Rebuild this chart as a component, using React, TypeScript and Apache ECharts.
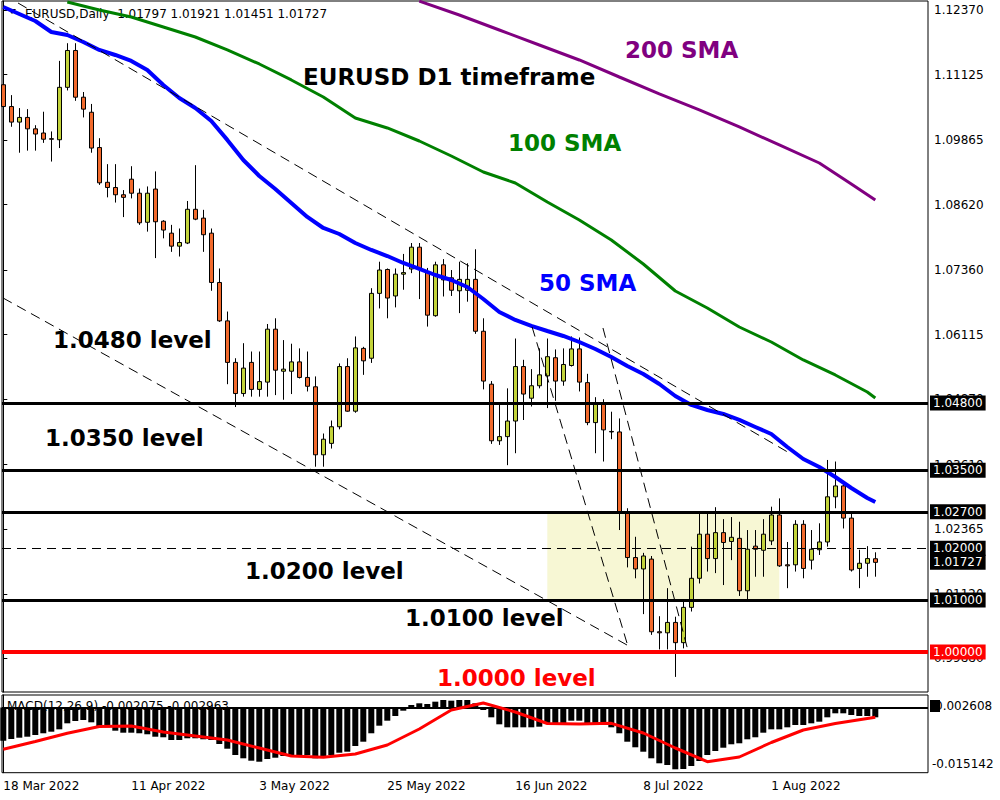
import React, { useEffect, useRef } from "react";
import * as echarts from "echarts";

// ---------- DATA ----------
const dateTicks = [0, 16, 32, 48, 64, 80, 96];
const dateLabels = ["18 Mar 2022", "11 Apr 2022", "3 May 2022", "25 May 2022", "16 Jun 2022", "8 Jul 2022", "1 Aug 2022"];
const priceTicks = [1.1237, 1.11125, 1.09865, 1.0862, 1.0736, 1.06115, 1.0487, 1.0361, 1.02365, 1.0112, 0.9988];

const opens = [1.1093,1.1051,1.1021,1.1030,1.1008,1.1000,1.0989,1.0987,1.1088,1.1159,
1.1069,1.1040,1.0972,1.0905,1.0895,1.0881,1.0911,1.0884,1.0828,1.0892,
1.0830,1.0807,1.0782,1.0788,1.0853,1.0836,1.0807,1.0712,1.0638,1.0558,
1.0498,1.0558,1.0506,1.0520,1.0622,1.0541,1.0541,1.0559,1.0529,1.0511,
1.0380,1.0402,1.0434,1.0550,1.0464,1.0585,1.0566,1.0691,1.0737,1.0686,
1.0728,1.0738,1.0780,1.0733,1.0648,1.0746,1.0721,1.0696,1.0697,1.0718,
1.0618,1.0516,1.0407,1.0415,1.0445,1.0550,1.0489,1.0513,1.0532,1.0567,
1.0522,1.0552,1.0584,1.0519,1.0442,1.0479,1.0425,1.0424,1.0268,1.0182,
1.0160,1.0179,1.0039,1.0037,1.0057,1.0018,1.0086,1.0142,1.0227,1.0180,
1.0230,1.0213,1.0219,1.0118,1.0204,1.0196,1.0214,1.0264,1.0168,1.0168,
1.0246,1.0177,1.0197,1.0212,1.0299,1.0320,1.0258,1.0161,1.0171,1.01797];

const highs = [1.1121,1.1073,1.1048,1.1046,1.1015,1.1041,1.1003,1.1139,1.1173,1.1173,
1.1079,1.1056,1.0990,1.0940,1.0940,1.0890,1.0936,1.0893,1.0897,1.0926,
1.0832,1.0823,1.0816,1.0869,1.0938,1.0852,1.0816,1.0739,1.0656,1.0566,
1.0595,1.0579,1.0579,1.0632,1.0643,1.0601,1.0594,1.0585,1.0579,1.0531,
1.0421,1.0446,1.0556,1.0566,1.0608,1.0588,1.0701,1.0752,1.0739,1.0739,
1.0767,1.0788,1.0788,1.0740,1.0752,1.0757,1.0736,1.0752,1.0749,1.0776,
1.0643,1.0522,1.0479,1.0508,1.0604,1.0563,1.0545,1.0585,1.0604,1.0583,
1.0585,1.0608,1.0606,1.0536,1.0491,1.0487,1.0463,1.0450,1.0277,1.0222,
1.0191,1.0185,1.0069,1.0123,1.0068,1.0097,1.0203,1.0267,1.0267,1.0279,
1.0256,1.0260,1.0251,1.0235,1.0235,1.0256,1.0280,1.0296,1.0212,1.0254,
1.0254,1.0235,1.0248,1.0370,1.0367,1.0328,1.0267,1.0197,1.0204,1.01921];

const lows = [1.1006,1.1012,1.0962,1.0966,1.0966,1.0981,1.0945,1.0971,1.1082,1.1062,
1.1030,1.0962,1.0900,1.0876,1.0866,1.0838,1.0874,1.0823,1.0810,1.0759,
1.0797,1.0771,1.0762,1.0786,1.0832,1.0771,1.0696,1.0636,1.0516,1.0472,
1.0492,1.0492,1.0492,1.0492,1.0495,1.0486,1.0497,1.0527,1.0502,1.0357,
1.0357,1.0392,1.0429,1.0463,1.0461,1.0534,1.0557,1.0662,1.0643,1.0664,
1.0698,1.0730,1.0680,1.0627,1.0646,1.0685,1.0686,1.0653,1.0675,1.0613,
1.0506,1.0401,1.0399,1.0360,1.0383,1.0447,1.0473,1.0508,1.0470,1.0484,
1.0513,1.0550,1.0502,1.0437,1.0383,1.0367,1.0410,1.0235,1.0163,1.0142,
1.0073,1.0033,1.0005,1.0005,0.9952,1.0007,1.0078,1.0132,1.0155,1.0152,
1.0129,1.0177,1.0108,1.0098,1.0145,1.0145,1.0206,1.0164,1.0123,1.0155,
1.0142,1.0159,1.0187,1.0203,1.0277,1.0238,1.0155,1.0123,1.0145,1.01451];

const closes = [1.1051,1.1021,1.1030,1.1008,1.0998,1.0988,1.0988,1.1088,1.1159,1.1069,
1.1046,1.0971,1.0904,1.0895,1.0881,1.0876,1.0884,1.0827,1.0884,1.0829,
1.0813,1.0782,1.0789,1.0853,1.0834,1.0804,1.0712,1.0638,1.0558,1.0498,
1.0547,1.0506,1.0521,1.0622,1.0543,1.0545,1.0559,1.0529,1.0512,1.0380,
1.0410,1.0434,1.0550,1.0464,1.0586,1.0561,1.0691,1.0736,1.0682,1.0728,
1.0731,1.0780,1.0739,1.0649,1.0746,1.0717,1.0697,1.0718,1.0718,1.0618,
1.0522,1.0407,1.0415,1.0445,1.0550,1.0497,1.0513,1.0534,1.0569,1.0522,
1.0554,1.0584,1.0520,1.0442,1.0480,1.0428,1.0424,1.0268,1.0182,1.0160,
1.0185,1.0039,1.0037,1.0057,1.0018,1.0086,1.0142,1.0227,1.0180,1.0230,
1.0211,1.0221,1.0118,1.0198,1.0198,1.0227,1.0264,1.0166,1.0166,1.0246,
1.0161,1.0198,1.0212,1.0299,1.0320,1.0258,1.0158,1.0171,1.0180,1.01727];

// Moving averages: [bar index, value]
const sma50: [number, number][] = [
  [0,1.12428],[2,1.12293],[4,1.12158],[6,1.11946],[8,1.11889],[10,1.11754],[12,1.11600],[14,1.11503],
  [16,1.11388],[18,1.11214],[20,1.10925],[22,1.10675],[24,1.10482],[26,1.10232],[28,1.09867],[30,1.09480],
  [32,1.09172],[34,1.08921],[36,1.08652],[38,1.08382],[40,1.08170],[42,1.08054],[44,1.07881],[46,1.07746],
  [48,1.07630],[50,1.07496],[52,1.07380],[54,1.07264],[56,1.07168],[58,1.07033],[60,1.06802],[62,1.06551],
  [64,1.06397],[66,1.06282],[68,1.06185],[70,1.06089],[72,1.05973],[74,1.05838],[76,1.05684],[78,1.05511],
  [80,1.05357],[82,1.05164],[84,1.04933],[86,1.04760],[88,1.04663],[90,1.04586],[92,1.04471],[94,1.04336],
  [96,1.04201],[98,1.03950],[100,1.03719],[102,1.03565],[104,1.03372],[106,1.03160],[108,1.02968],[109,1.02890]];
const sma100: [number, number][] = [
  [8,1.12524],[12,1.12370],[16,1.12235],[20,1.12043],[24,1.11850],[28,1.11600],[32,1.11330],[36,1.11022],
  [40,1.10694],[44,1.10289],[48,1.10097],[52,1.09846],[56,1.09557],[60,1.09249],[64,1.09037],[68,1.08671],
  [72,1.08324],[76,1.07939],[80,1.07476],[84,1.06956],[88,1.06629],[92,1.06262],[96,1.05973],[100,1.05627],
  [104,1.05338],[108,1.05010],[109,1.04895]];
const sma200: [number, number][] = [
  [52,1.12540],[57,1.12274],[62,1.11985],[67,1.11696],[72,1.11407],[77,1.11079],[82,1.10752],[87,1.10444],
  [92,1.10116],[97,1.09769],[102,1.09422],[106,1.09018],[109,1.08709]];

// MACD histogram (one per bar) and signal line samples
const macdHist = [-0.00794,-0.00753,-0.00722,-0.00698,-0.00657,-0.00616,-0.00578,-0.00521,-0.00377,-0.00321,
-0.00297,-0.00353,-0.00473,-0.00473,-0.00554,-0.00602,-0.00602,-0.00616,-0.00640,-0.00698,
-0.00712,-0.00777,-0.00777,-0.00736,-0.00736,-0.00760,-0.00777,-0.00873,-0.00986,-0.01137,
-0.01216,-0.01274,-0.01298,-0.01233,-0.01202,-0.01161,-0.01137,-0.01137,-0.01137,-0.01216,
-0.01178,-0.01137,-0.01082,-0.01058,-0.00921,-0.00818,-0.00616,-0.00434,-0.00314,-0.00201,
-0.00074,0.00062,0.00103,0.00086,0.00142,0.00182,0.00166,0.00182,0.00182,0.00103,
-0.00058,-0.00233,-0.00401,-0.00473,-0.00473,-0.00473,-0.00473,-0.00458,-0.00377,-0.00377,
-0.00377,-0.00314,-0.00314,-0.00401,-0.00401,-0.00417,-0.00473,-0.00616,-0.00818,-0.00952,
-0.01058,-0.01216,-0.01336,-0.01377,-0.01480,-0.01473,-0.01401,-0.01281,-0.01137,-0.01041,
-0.00962,-0.00880,-0.00856,-0.00760,-0.00712,-0.00602,-0.00521,-0.00521,-0.00473,-0.00417,
-0.00417,-0.00377,-0.00338,-0.00233,-0.00137,-0.00137,-0.00178,-0.00201,-0.00201,-0.00233];
const macdSignal: [number, number][] = [
  [0,-0.01000],[4,-0.00813],[8,-0.00616],[12,-0.00453],[16,-0.00441],[20,-0.00585],[24,-0.00681],[28,-0.00777],
  [32,-0.00969],[36,-0.01161],[40,-0.01192],[44,-0.01113],[48,-0.00897],[52,-0.00513],[56,-0.00058],[60,0.00110],
  [64,-0.00106],[68,-0.00381],[72,-0.00393],[76,-0.00377],[80,-0.00609],[84,-0.00969],[88,-0.01298],[92,-0.01185],
  [96,-0.00837],[100,-0.00537],[104,-0.00381],[108,-0.00261],[109,-0.00233]];

// Levels and drawn objects
const solidLevels = [1.048, 1.035, 1.027, 1.01];
const dashedLevel = 1.02;
const parityLevel = 1.0;
const bidPrice = 1.01727;
const trendLines: [number, number][][] = [
  [[1.84, 1.12505], [98.3, 1.0383]],
  [[-0.04, 1.06822], [77.96, 1.00135]],
  [[66.1, 1.06263], [77.96, 1.00173]],
  [[74.96, 1.06243], [85.5, 1.00077]],
];
const zoneBars = [68, 97];
const zonePrices = [1.01, 1.027];

// ---------- LAYOUT CONSTANTS ----------
const FONT = '"DejaVu Sans", Verdana, sans-serif';
const X_MIN = -0.1625;
const X_MAX = X_MIN + 926 / 8;
const Y_MIN = 0.992293;
const Y_MAX = 1.125434;
const MACD_MIN = -0.015615;
const MACD_MAX = 0.003022;
const BULL = "#c3d33a";
const BEAR = "#f26a2c";

const boxLabel = (txt: string, bg: string) => ({
  show: true,
  position: "end",
  formatter: txt,
  color: "#fff",
  backgroundColor: bg,
  padding: [2, 3, 1, 3],
  fontFamily: FONT,
  fontSize: 12,
  distance: 2,
});

const bigText = (text: string, x: number, y: number, color: string) => ({
  type: "text",
  z: 10,
  style: {
    text, x, y, fill: color,
    font: `bold 23px ${FONT}`,
    textVerticalAlign: "middle", verticalAlign: "middle",
  },
});

export default function App() {
  const ref = useRef<HTMLDivElement>(null);
  useEffect(() => {
    document.body.style.margin = "0";
    const chart = echarts.init(ref.current!, null, { renderer: "svg" });
    const candleData = opens.map((o, i) => [i, o, closes[i], lows[i], highs[i]]);

    const markLineData: any[] = [
      ...solidLevels.map((v) => ({
        yAxis: v,
        lineStyle: { color: "#000", width: 3, type: "solid" },
        label: boxLabel(v.toFixed(5), "#000"),
      })),
      { yAxis: dashedLevel, lineStyle: { color: "#000", width: 1, type: [9, 6] }, label: boxLabel(dashedLevel.toFixed(5), "#000") },
      { yAxis: bidPrice, lineStyle: { color: "rgba(0,0,0,0)", width: 1 }, label: boxLabel(bidPrice.toFixed(5), "#000") },
      { yAxis: parityLevel, lineStyle: { color: "#ff0000", width: 4, type: "solid" }, label: boxLabel(parityLevel.toFixed(5), "#ff0000") },
      ...trendLines.map(([a, b]) => [
        { coord: a, lineStyle: { color: "#000", width: 1, type: [10, 6] }, label: { show: false } },
        { coord: b, lineStyle: { color: "#000", width: 1, type: [10, 6] }, label: { show: false } },
      ]),
    ];

    const option: any = {
      animation: false,
      backgroundColor: "#fff",
      grid: [
        { left: 2, top: 1, width: 926, height: 691, show: true, borderColor: "#000", borderWidth: 1, backgroundColor: "transparent" },
        { left: 2, top: 695, width: 926, height: 77.7, show: true, borderColor: "#000", borderWidth: 1, backgroundColor: "transparent" },
      ],
      xAxis: [
        { type: "value", gridIndex: 0, min: X_MIN, max: X_MAX, show: false },
        {
          type: "value", gridIndex: 1, min: X_MIN, max: X_MAX,
          axisLine: { show: false }, splitLine: { show: false },
          axisTick: { show: true, customValues: dateTicks, length: 4, lineStyle: { color: "#000" } },
          axisLabel: {
            show: true, customValues: dateTicks,
            formatter: (v: number) => dateLabels[dateTicks.indexOf(Math.round(v))] ?? "",
            align: "left", color: "#000", fontFamily: FONT, fontSize: 12, margin: 7,
          },
        },
      ],
      yAxis: [
        {
          type: "value", gridIndex: 0, position: "right", min: Y_MIN, max: Y_MAX,
          splitLine: { show: false },
          axisLine: { show: true, lineStyle: { color: "#000" } },
          axisTick: { show: true, customValues: priceTicks, length: 4, lineStyle: { color: "#000" } },
          axisLabel: { show: true, customValues: priceTicks, formatter: (v: number) => v.toFixed(5), color: "#000", fontFamily: FONT, fontSize: 12, margin: 6 },
        },
        {
          type: "value", gridIndex: 1, position: "right", min: MACD_MIN, max: MACD_MAX,
          splitLine: { show: false }, axisLine: { show: true, lineStyle: { color: "#000" } },
          axisTick: { show: false }, axisLabel: { show: false },
        },
      ],
      series: [
        {
          type: "candlestick", xAxisIndex: 0, yAxisIndex: 0, data: candleData, barWidth: 5, z: 3,
          itemStyle: { color: BULL, color0: BEAR, borderColor: "#000", borderColor0: "#000", borderWidth: 1 },
          markArea: {
            silent: true, z: 1,
            itemStyle: { color: "#f7f7d4" },
            data: [[{ xAxis: zoneBars[0], yAxis: zonePrices[0] }, { xAxis: zoneBars[1], yAxis: zonePrices[1] }]],
          },
          markLine: { silent: true, precision: 6, symbol: ["none", "none"], z: 6, data: markLineData },
        },
        { type: "line", xAxisIndex: 0, yAxisIndex: 0, data: sma200, symbol: "none", lineStyle: { color: "#800080", width: 3 }, z: 4 },
        { type: "line", xAxisIndex: 0, yAxisIndex: 0, data: sma100, symbol: "none", lineStyle: { color: "#008000", width: 3 }, z: 4 },
        { type: "line", xAxisIndex: 0, yAxisIndex: 0, data: sma50, symbol: "none", lineStyle: { color: "#0000ff", width: 4 }, z: 4 },
        {
          type: "bar", xAxisIndex: 1, yAxisIndex: 1, data: macdHist.map((v, i) => [i, v]), barWidth: 6, z: 3,
          itemStyle: { color: "#000" },
          markLine: { silent: true, precision: 6, symbol: ["none", "none"], data: [{ yAxis: 0, lineStyle: { color: "#000", width: 2, type: "solid" }, label: { show: false } }] },
        },
        { type: "line", xAxisIndex: 1, yAxisIndex: 1, data: macdSignal, symbol: "none", lineStyle: { color: "#ff0000", width: 3 }, z: 5 },
      ],
      graphic: [
        { type: "polygon", z: 0, shape: { points: [[8, 9], [16, 9], [12, 14]] }, style: { fill: "#000" } },
        { type: "text", z: 0, style: { text: "EURUSD,Daily  1.01797 1.01921 1.01451 1.01727", x: 25, y: 14, fill: "#000", font: `12px ${FONT}`, textVerticalAlign: "middle", verticalAlign: "middle" } },
        { type: "text", z: 0, style: { text: "MACD(12,26,9) -0.002075 -0.002963", x: 7, y: 706, fill: "#000", font: `12px ${FONT}`, textVerticalAlign: "middle", verticalAlign: "middle" } },
        { type: "rect", z: 10, shape: { x: 930, y: 700, width: 10, height: 12 }, style: { fill: "#000" } },
        { type: "text", z: 11, style: { text: "0.002608", x: 935, y: 706, fill: "#000", font: `12px ${FONT}`, textVerticalAlign: "middle", verticalAlign: "middle" } },
        { type: "text", z: 11, style: { text: "-0.015142", x: 932, y: 764, fill: "#000", font: `12px ${FONT}`, textVerticalAlign: "middle", verticalAlign: "middle" } },
        bigText("EURUSD D1 timeframe", 303, 76.5, "#000"),
        bigText("200 SMA", 625, 49.5, "#800080"),
        bigText("100 SMA", 508, 143, "#008000"),
        bigText("50 SMA", 539, 283, "#0000ff"),
        bigText("1.0480 level", 53, 340, "#000"),
        bigText("1.0350 level", 45, 438, "#000"),
        bigText("1.0200 level", 245, 571, "#000"),
        bigText("1.0100 level", 405, 618, "#000"),
        bigText("1.0000 level", 437, 678, "#ff0000"),
      ],
    };
    chart.setOption(option);
    return () => chart.dispose();
  }, []);
  return <div ref={ref} style={{ width: 1000, height: 800 }} />;
}
